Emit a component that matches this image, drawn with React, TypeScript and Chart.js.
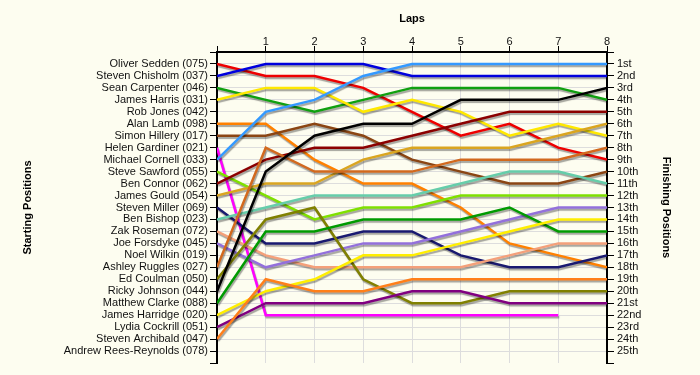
import React, { useEffect, useRef } from "react";
import { Chart, registerables } from "chart.js";

Chart.register(...registerables);

const laps = [0, 1, 2, 3, 4, 5, 6, 7, 8];

const startLabels = [
  "Oliver Sedden (075)",
  "Steven Chisholm (037)",
  "Sean Carpenter (046)",
  "James Harris (031)",
  "Rob Jones (042)",
  "Alan Lamb (098)",
  "Simon Hillery (017)",
  "Helen Gardiner (021)",
  "Michael Cornell (033)",
  "Steve Sawford (055)",
  "Ben Connor (062)",
  "James Gould (054)",
  "Steven Miller (069)",
  "Ben Bishop (023)",
  "Zak Roseman (072)",
  "Joe Forsdyke (045)",
  "Noel Wilkin (019)",
  "Ashley Ruggles (027)",
  "Ed Coulman (050)",
  "Ricky Johnson (044)",
  "Matthew Clarke (088)",
  "James Harridge (020)",
  "Lydia Cockrill (051)",
  "Steven Archibald (047)",
  "Andrew Rees-Reynolds (078)",
];

const finishLabels = [
  "1st", "2nd", "3rd", "4th", "5th", "6th", "7th", "8th", "9th", "10th",
  "11th", "12th", "13th", "14th", "15th", "16th", "17th", "18th", "19th", "20th",
  "21st", "22nd", "23rd", "24th", "25th",
];

// positions per lap (lap 0..8)
const oliverSedden = [1, 2, 2, 3, 5, 7, 6, 8, 9];
const stevenChisholm = [2, 1, 1, 1, 2, 2, 2, 2, 2];
const seanCarpenter = [3, 4, 5, 4, 3, 3, 3, 3, 4];
const jamesHarris = [4, 3, 3, 5, 4, 5, 7, 6, 7];
const alanLamb = [6, 6, 9, 11, 11, 13, 16, 17, 18];
const simonHillery = [7, 7, 6, 7, 9, 10, 11, 11, 10];
const helenGardiner = [8, 22, 22, 22, 22, 22, 22, 22, null];
const michaelCornell = [9, 5, 4, 2, 1, 1, 1, 1, 1];
const steveSawford = [10, 12, 14, 13, 13, 12, 12, 12, 12];
const benConnor = [11, 9, 8, 8, 7, 6, 5, 5, 5];
const jamesGould = [12, 11, 11, 9, 8, 8, 8, 7, 6];
const stevenMiller = [13, 16, 16, 15, 15, 17, 18, 18, 17];
const benBishop = [14, 13, 12, 12, 12, 11, 10, 10, 11];
const zakRoseman = [15, 17, 18, 18, 18, 18, 17, 16, 16];
const joeForsdyke = [16, 18, 17, 16, 16, 15, 14, 13, 13];
const ashleyRuggles = [18, 8, 10, 10, 10, 9, 9, 9, 8];
const edCoulman = [19, 14, 13, 19, 21, 21, 20, 20, 20];
const rickyJohnson = [20, 10, 7, 6, 6, 4, 4, 4, 3];
const matthewClarke = [21, 15, 15, 14, 14, 14, 13, 15, 15];
const jamesHarridge = [22, 20, 19, 17, 17, 16, 15, 14, 14];
const lydiaCockrill = [23, 21, 21, 21, 20, 20, 21, 21, 21];
const stevenArchibald = [24, 19, 20, 20, 19, 19, 19, 19, 19];

const series: [string, (number | null)[], string][] = [
  ["Steven Archibald", stevenArchibald, "#FF7F1A"],
  ["Lydia Cockrill", lydiaCockrill, "#800080"],
  ["James Harridge", jamesHarridge, "#FFEE00"],
  ["Matthew Clarke", matthewClarke, "#009A00"],
  ["Ricky Johnson", rickyJohnson, "#000000"],
  ["Ed Coulman", edCoulman, "#808000"],
  ["Ashley Ruggles", ashleyRuggles, "#D2691E"],
  ["Joe Forsdyke", joeForsdyke, "#9370DB"],
  ["Zak Roseman", zakRoseman, "#F4A07A"],
  ["Ben Bishop", benBishop, "#66CDAA"],
  ["Steven Miller", stevenMiller, "#191970"],
  ["James Gould", jamesGould, "#DAA520"],
  ["Ben Connor", benConnor, "#8B0000"],
  ["Steve Sawford", steveSawford, "#7FE000"],
  ["Michael Cornell", michaelCornell, "#3399FF"],
  ["Helen Gardiner", helenGardiner, "#FF00FF"],
  ["Simon Hillery", simonHillery, "#8B4513"],
  ["Alan Lamb", alanLamb, "#FF8000"],
  ["James Harris", jamesHarris, "#FFE800"],
  ["Sean Carpenter", seanCarpenter, "#10A010"],
  ["Steven Chisholm", stevenChisholm, "#0000DD"],
  ["Oliver Sedden", oliverSedden, "#EE0000"],
];

const FONT = "'Liberation Sans', Arial, sans-serif";
const BG = "#FDFDF0";

export default function App() {
  const ref = useRef<HTMLCanvasElement | null>(null);

  useEffect(() => {
    if (!ref.current) return;

    const bgPlugin = {
      id: "bg",
      beforeDraw(chart: any) {
        const c = chart.ctx;
        c.save();
        c.fillStyle = BG;
        c.fillRect(0, 0, chart.width, chart.height);
        c.restore();
      },
    };
    const shadowPlugin = {
      id: "shadow",
      beforeDatasetDraw(chart: any) {
        const c = chart.ctx;
        c.save();
        c.shadowColor = "rgba(0,0,0,0.35)";
        c.shadowOffsetX = 1;
        c.shadowOffsetY = 2;
        c.shadowBlur = 1;
      },
      afterDatasetDraw(chart: any) {
        chart.ctx.restore();
      },
    };

    const gridColor = (edgeA: number, edgeB: number) => (ctx: any) =>
      ctx.tick && (ctx.tick.value === edgeA || ctx.tick.value === edgeB)
        ? "rgba(0,0,0,0)"
        : "#DDDDDD";

    const chart = new Chart(ref.current, {
      type: "line",
      data: {
        datasets: series.map(([name, vals, color]) => ({
          label: name,
          data: vals
            .map((v, i) => (v == null ? null : { x: laps[i], y: v }))
            .filter((p) => p !== null) as any,
          borderColor: color,
          backgroundColor: color,
          borderWidth: 2.5,
          pointRadius: 0,
          tension: 0,
          fill: false,
          yAxisID: "y",
        })),
      },
      options: {
        animation: false,
        responsive: false,
        maintainAspectRatio: false,
        layout: { padding: { left: 0, right: 0, top: 0, bottom: 12 } },
        plugins: {
          legend: { display: false },
          tooltip: { enabled: false },
        },
        scales: {
          x: {
            type: "linear",
            position: "top",
            min: 0,
            max: 8,
            afterFit: (s: any) => {
              s.height = 52;
            },
            ticks: {
              stepSize: 1,
              padding: -3,
              color: "#111",
              font: { family: FONT, size: 11 },
              callback: (v: any) => (v === 0 ? "" : String(v)),
            },
            grid: {
              color: gridColor(0, 8),
              tickColor: "#000",
              tickLength: 6,
              lineWidth: 1,
            },
            border: { color: "#000", width: 2 },
            title: {
              display: true,
              text: "Laps",
              color: "#000",
              font: { family: FONT, size: 11, weight: "bold" },
              padding: { top: 12, bottom: 0 },
            },
          },
          y: {
            type: "linear",
            position: "left",
            min: 0,
            max: 26,
            reverse: true,
            afterFit: (s: any) => {
              s.width = 217;
            },
            ticks: {
              stepSize: 1,
              autoSkip: false,
              padding: 2,
              color: "#111",
              font: { family: FONT, size: 11 },
              callback: (v: any) => startLabels[v - 1] ?? "",
            },
            grid: {
              color: gridColor(0, 26),
              tickColor: "#000",
              tickLength: 7,
              lineWidth: 1,
            },
            border: { color: "#000", width: 2 },
            title: {
              display: true,
              text: "Starting Positions",
              color: "#000",
              font: { family: FONT, size: 11, weight: "bold" },
              padding: { top: 21, bottom: 0 },
            },
          },
          y2: {
            type: "linear",
            position: "right",
            min: 0,
            max: 26,
            reverse: true,
            afterFit: (s: any) => {
              s.width = 93;
            },
            ticks: {
              stepSize: 1,
              autoSkip: false,
              padding: 3,
              color: "#111",
              font: { family: FONT, size: 11 },
              callback: (v: any) => finishLabels[v - 1] ?? "",
            },
            grid: {
              drawOnChartArea: false,
              tickColor: "#000",
              tickLength: 7,
            },
            border: { color: "#000", width: 2 },
            title: {
              display: true,
              text: "Finishing Positions",
              color: "#000",
              font: { family: FONT, size: 11, weight: "bold" },
              padding: { top: 27, bottom: 0 },
            },
          },
        },
      } as any,
      plugins: [bgPlugin, shadowPlugin],
    });

    return () => chart.destroy();
  }, []);

  return (
    <div
      style={{
        position: "fixed",
        left: 0,
        top: 0,
        width: 700,
        height: 375,
        background: BG,
      }}
    >
      <canvas ref={ref} width={700} height={375} style={{ display: "block" }} />
    </div>
  );
}
